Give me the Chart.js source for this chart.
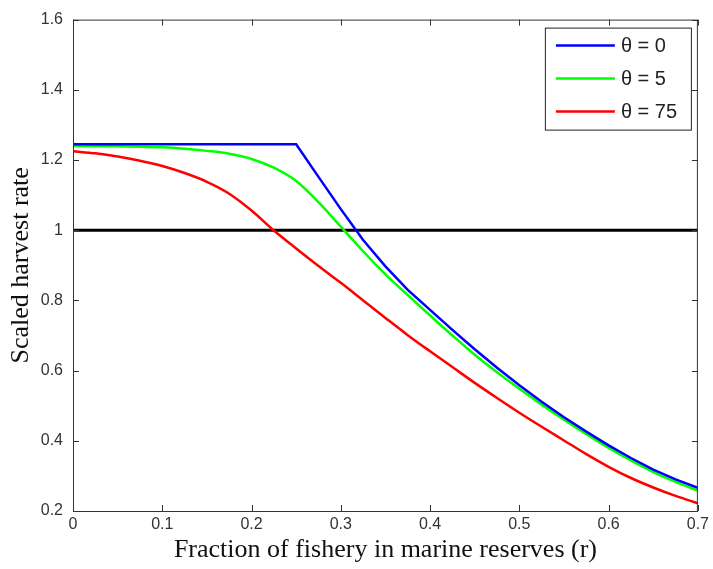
<!DOCTYPE html>
<html>
<head>
<meta charset="utf-8">
<script src="https://cdn.jsdelivr.net/npm/chart.js@4"></script>
<style>
  html, body { margin: 0; padding: 0; background: #fff; }
  #wrap { width: 713px; height: 569px; }
</style>
</head>
<body>
<div id="wrap"><canvas id="harvestChart"></canvas></div>
<script>
// fraction in reserves (r)
const rValues = [0, 0.025, 0.05, 0.075, 0.1, 0.125, 0.15, 0.175, 0.2, 0.225, 0.25, 0.275, 0.3, 0.325, 0.35,
  0.375, 0.4, 0.425, 0.45, 0.475, 0.5, 0.525, 0.55, 0.575, 0.6, 0.625, 0.65, 0.675, 0.7];

const theta0 = [1.245, 1.245, 1.245, 1.245, 1.245, 1.245, 1.245, 1.245, 1.245, 1.245, 1.245, 1.152, 1.06, 0.972, 0.897,
  0.83, 0.773, 0.716, 0.661, 0.608, 0.558, 0.511, 0.467, 0.426, 0.387, 0.351, 0.318, 0.29, 0.266];
const theta5 = [1.24, 1.24, 1.239, 1.238, 1.236, 1.232, 1.226, 1.218, 1.203, 1.178, 1.14, 1.08, 1.01, 0.94, 0.874,
  0.815, 0.757, 0.7, 0.645, 0.595, 0.548, 0.503, 0.46, 0.419, 0.38, 0.344, 0.311, 0.283, 0.258];
const theta75 = [1.225, 1.219, 1.21, 1.198, 1.183, 1.163, 1.138, 1.104, 1.056, 0.999, 0.948, 0.898, 0.85, 0.8, 0.75,
  0.701, 0.655, 0.61, 0.565, 0.522, 0.48, 0.44, 0.401, 0.362, 0.326, 0.294, 0.267, 0.243, 0.222];

const refLine = [1, 1];
const refX = [0, 0.7];

const seriesLabels = ['θ = 0', 'θ = 5', 'θ = 75'];
const seriesColors = ['#0000ff', '#00ff00', '#ff0000'];

const xTickLabels = ['0', '0.1', '0.2', '0.3', '0.4', '0.5', '0.6', '0.7'];
const yTickLabels = ['0.2', '0.4', '0.6', '0.8', '1', '1.2', '1.4', '1.6'];

function toPoints(xs, ys) {
  return ys.map((y, i) => ({ x: xs[i], y: y }));
}

// MATLAB-like frame: box, inward ticks, legend inside top-right
const framePlugin = {
  id: 'frame',
  afterDatasetsDraw(chart) {
    const ctx = chart.ctx;
    const a = chart.chartArea;
    const xs = chart.scales.x, ys = chart.scales.y;
    ctx.save();
    ctx.strokeStyle = '#333';
    ctx.lineWidth = 1;
    ctx.strokeRect(a.left + 0.5, a.top + 0.5, a.right - a.left - 1, a.bottom - a.top);
    const len = 6;
    ctx.beginPath();
    xs.ticks.forEach(t => {
      const px = Math.round(xs.getPixelForValue(t.value)) + 0.5;
      ctx.moveTo(px, a.bottom); ctx.lineTo(px, a.bottom - len);
      ctx.moveTo(px, a.top); ctx.lineTo(px, a.top + len);
    });
    ys.ticks.forEach(t => {
      const py = Math.round(ys.getPixelForValue(t.value)) + 0.5;
      ctx.moveTo(a.left, py); ctx.lineTo(a.left + len, py);
      ctx.moveTo(a.right, py); ctx.lineTo(a.right - len, py);
    });
    ctx.stroke();

    // legend
    const w = 146, h = 102;
    const lx = a.right - 7 - w, ly = a.top + 8;
    ctx.fillStyle = '#fff';
    ctx.fillRect(lx, ly, w, h);
    ctx.strokeStyle = '#222';
    ctx.strokeRect(lx + 0.5, ly + 0.5, w, h);
    ctx.font = '20px "Liberation Sans", Arial, sans-serif';
    ctx.textBaseline = 'middle';
    chart.data.datasets.forEach((ds, i) => {
      if (ds.hideInLegend) return;
      const yy = ly + 18 + i * 33;
      ctx.strokeStyle = ds.borderColor;
      ctx.lineWidth = 2.5;
      ctx.beginPath();
      ctx.moveTo(lx + 11, yy); ctx.lineTo(lx + 70, yy);
      ctx.stroke();
      ctx.fillStyle = '#222';
      ctx.fillText(ds.label, lx + 76, yy + 1);
    });
    ctx.restore();
  }
};

const datasets = [theta0, theta5, theta75].map((vals, i) => ({
  label: seriesLabels[i],
  data: toPoints(rValues, vals),
  borderColor: seriesColors[i],
  borderWidth: 2.5,
  pointRadius: 0,
  tension: 0,
  cubicInterpolationMode: i === 0 ? 'default' : 'monotone',
  fill: false
}));
datasets.push({
  label: 'ref',
  data: toPoints(refX, refLine),
  borderColor: '#000',
  borderWidth: 3,
  pointRadius: 0,
  fill: false,
  hideInLegend: true
});

new Chart(document.getElementById('harvestChart'), {
  type: 'line',
  data: { datasets: datasets },
  options: {
    responsive: true,
    maintainAspectRatio: false,
    animation: false,
    layout: { padding: { left: 0, top: 18, right: 13, bottom: 0 } },
    plugins: {
      legend: { display: false },
      tooltip: { enabled: false }
    },
    scales: {
      x: {
        type: 'linear',
        min: 0,
        max: 0.7,
        afterFit(scale) { scale.height = 58; },
        grid: { display: false, drawTicks: false },
        border: { display: false },
        ticks: {
          stepSize: 0.1,
          padding: 4,
          color: '#333',
          font: { family: '"Liberation Sans", Arial, sans-serif', size: 16 },
          maxRotation: 0,
          callback: v => xTickLabels[Math.round(v / 0.1)]
        },
        title: {
          display: true,
          text: 'Fraction of fishery in marine reserves (r)',
          color: '#111',
          font: { family: '"Liberation Serif", "Times New Roman", serif', size: 26 },
          padding: { top: 0, bottom: 3 }
        }
      },
      y: {
        min: 0.2,
        max: 1.6,
        afterFit(scale) { scale.width = 73; },
        grid: { display: false, drawTicks: false },
        border: { display: false },
        ticks: {
          stepSize: 0.2,
          padding: 10,
          color: '#333',
          font: { family: '"Liberation Sans", Arial, sans-serif', size: 16 },
          callback: v => yTickLabels[Math.round((v - 0.2) / 0.2)]
        },
        title: {
          display: true,
          text: 'Scaled harvest rate',
          color: '#111',
          font: { family: '"Liberation Serif", "Times New Roman", serif', size: 26 },
          padding: { top: 6, bottom: 0 }
        }
      }
    }
  },
  plugins: [framePlugin]
});
</script>
</body>
</html>
